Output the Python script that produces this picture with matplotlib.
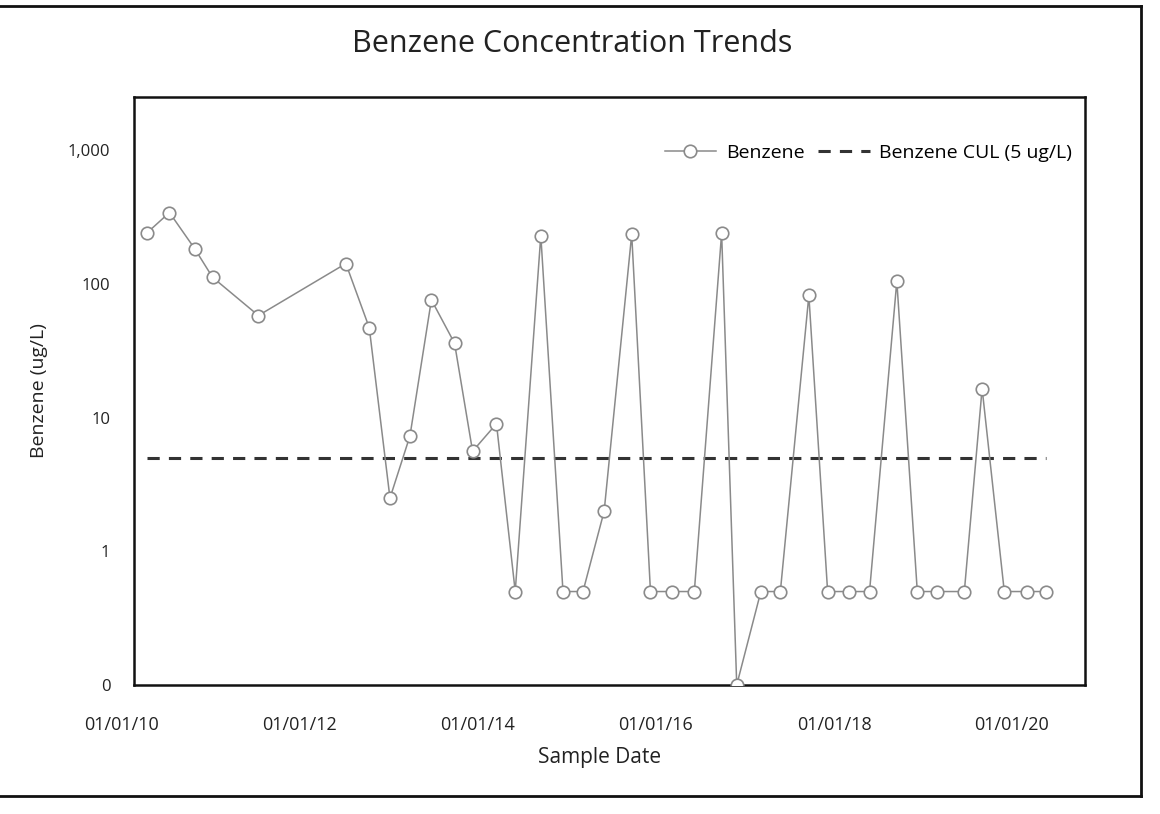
import numpy as np
import pandas as pd
import matplotlib
matplotlib.use("Agg")
import matplotlib.pyplot as plt
import matplotlib.dates as mdates
from matplotlib.lines import Line2D
from matplotlib.ticker import FixedLocator, FixedFormatter, NullLocator

plt.rcParams['font.family'] = ['Open Sans', 'DejaVu Sans']

# sample dates and benzene results (ug/L)
sample_dates = [
  "2010-04-15", "2010-07-15", "2010-10-27", "2011-01-08", "2011-07-15",
  "2012-07-08", "2012-10-12", "2013-01-05", "2013-03-28", "2013-06-24",
  "2013-09-27", "2013-12-10", "2014-03-18", "2014-06-03", "2014-09-16",
  "2014-12-16", "2015-03-08", "2015-06-03", "2015-09-24", "2015-12-10",
  "2016-03-08", "2016-06-07", "2016-09-27", "2016-11-28", "2017-03-07",
  "2017-05-26", "2017-09-20", "2017-12-06", "2018-03-03", "2018-05-27",
  "2018-09-16", "2018-12-09", "2019-02-28", "2019-06-20", "2019-09-01",
  "2019-12-01", "2020-03-03", "2020-05-22",
]
benzene = [
  242, 342, 183, 112, 58,
  142, 47, 2.5, 7.3, 76,
  36, 5.6, 9.0, 0.5, 230,
  0.5, 0.5, 2.0, 235, 0.5,
  0.5, 0.5, 240, 0.1, 0.5,
  0.5, 82, 0.5, 0.5, 0.5,
  105, 0.5, 0.5, 0.5, 16.5,
  0.5, 0.5, 0.5,
]
cul = 5.0

y_ticks = [0.1, 1, 10, 100, 1000]
y_tick_labels = ["0", "1", "10", "100", "1,000"]
x_ticks = ["2010-01-01", "2012-01-01", "2014-01-01", "2016-01-01", "2018-01-01", "2020-01-01"]

dates = pd.to_datetime(sample_dates)

fig = plt.figure(figsize=(11.6, 8.14), dpi=100)
ax = fig.add_axes([0.0986, 0.1585, 0.8367, 0.7223])

ax.plot(dates, benzene, color="#8a8a8a", linewidth=1.1, marker="o",
        markersize=9, markerfacecolor="white", markeredgecolor="#8a8a8a",
        markeredgewidth=1.2, label="Benzene", zorder=3)
ax.plot(dates, [cul] * len(dates), color="#333333", linestyle=(0, (4, 3)),
        linewidth=2.2, label="Benzene CUL (5 ug/L)", zorder=2)

ax.set_yscale("log")
ax.set_ylim(0.1, 2500)
ax.yaxis.set_major_locator(FixedLocator(y_ticks))
ax.yaxis.set_major_formatter(FixedFormatter(y_tick_labels))
ax.yaxis.set_minor_locator(NullLocator())

x_lo = mdates.date2num(pd.Timestamp("2009-12-01"))
x_box = mdates.date2num(pd.Timestamp("2010-02-19"))
x_hi = mdates.date2num(pd.Timestamp("2020-10-27"))
ax.set_xlim(x_lo, x_hi)
ax.set_xticks(mdates.date2num(pd.to_datetime(x_ticks)))
ax.xaxis.set_major_formatter(mdates.DateFormatter("%m/%d/%y"))
ax.xaxis.set_minor_locator(NullLocator())

# frame starts a little after the first tick, like the original
ax.spines["left"].set_position(("data", x_box))
ax.spines["top"].set_bounds(x_box, x_hi)
ax.spines["bottom"].set_bounds(x_box, x_hi)
for s in ax.spines.values():
  s.set_linewidth(1.8)
  s.set_color("#111111")

ax.tick_params(axis="x", length=0, labelsize=13, colors="#222222", pad=22)
ax.tick_params(axis="y", length=0, labelsize=12, colors="#222222", pad=17)

ax.set_xlabel("Sample Date", fontsize=15, color="#222222", labelpad=10)
ax.set_ylabel("Benzene (ug/L)", fontsize=14, color="#222222", labelpad=14)
fig.suptitle("Benzene Concentration Trends", fontsize=22, color="#222222",
             x=0.493, y=0.964)

ax.legend(loc="upper right", ncol=2, frameon=False, fontsize=14,
          bbox_to_anchor=(1.005, 0.95), handlelength=2.65, columnspacing=0.7,
          handletextpad=0.5)

# outer border of the figure panel (top, right, bottom)
border = dict(transform=fig.transFigure, color="#111111", linewidth=2.0)
fig.add_artist(Line2D([0.0, 0.984], [0.993, 0.993], **border))
fig.add_artist(Line2D([0.984, 0.984], [0.993, 0.022], **border))
fig.add_artist(Line2D([0.0, 0.984], [0.022, 0.022], **border))

fig.savefig("out.png", dpi=100)
